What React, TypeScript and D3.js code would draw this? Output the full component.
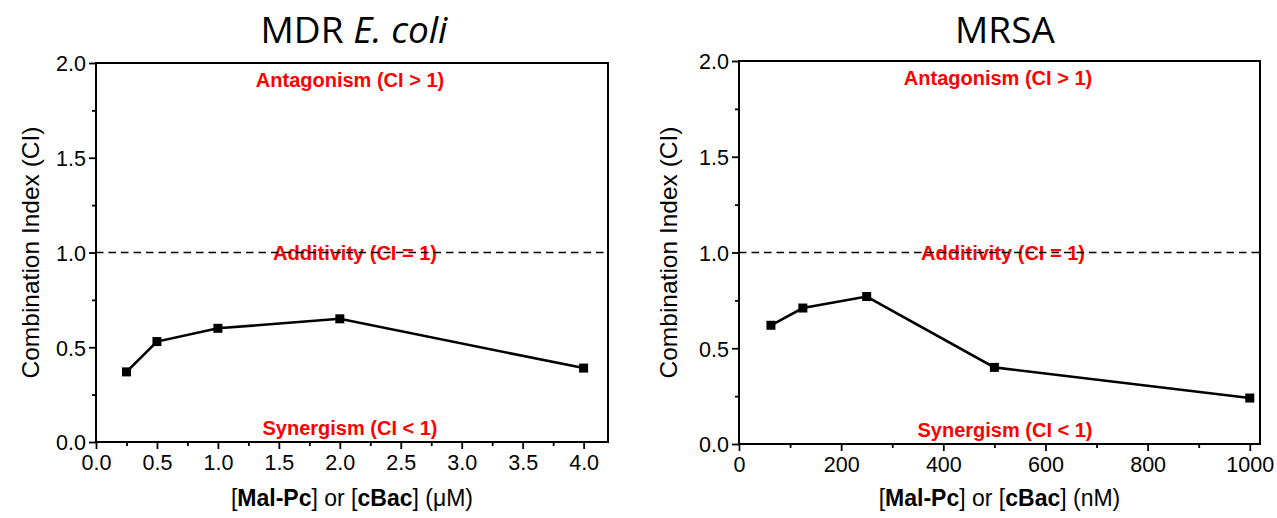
import * as d3 from "d3";
import { useEffect, useRef } from "react";

// data
const ecoliDose = [0.25, 0.5, 1, 2, 4];
const ecoliCI = [0.37, 0.53, 0.6, 0.65, 0.39];
const mrsaDose = [62.5, 125, 250, 500, 1000];
const mrsaCI = [0.62, 0.71, 0.77, 0.4, 0.24];

const ciTicks = [0, 0.5, 1, 1.5, 2];
const ciMinor = [0.25, 0.75, 1.25, 1.75];
const ecoliTicks = [0, 0.5, 1, 1.5, 2, 2.5, 3, 3.5, 4];
const ecoliMinor = [0.25, 0.75, 1.25, 1.75, 2.25, 2.75, 3.25, 3.75];
const mrsaTicks = [0, 200, 400, 600, 800, 1000];
const mrsaMinor = [100, 300, 500, 700, 900];

const W = 1277;
const H = 518;
const RED = "#ff0000";
const AX_FONT = "'Liberation Sans', Arial, sans-serif";

interface PanelOpts {
  left: number;
  right: number;
  top: number;
  bottom: number;
  xMax: number;
  dose: number[];
  ci: number[];
  xTicks: number[];
  xMinor: number[];
  fmtX: (d: number) => string;
  unit: string;
  title: string;
  italic?: string;
  titleX: number;
  yTitleX: number;
  notes: { anta: number; addi: number; syn: number };
}

function drawPanel(svg: d3.Selection<SVGSVGElement, unknown, null, undefined>, o: PanelOpts) {
  const x = d3.scaleLinear().domain([0, o.xMax]).range([o.left, o.right]);
  const y = d3.scaleLinear().domain([0, 2]).range([o.bottom, o.top]);
  const g = svg.append("g");

  // title
  const t = g.append("text")
    .attr("x", o.titleX)
    .attr("y", 43)
    .attr("text-anchor", "middle")
    .attr("font-family", "'Open Sans', sans-serif")
    .attr("font-size", 37)
    .attr("fill", "#000");
  t.append("tspan").text(o.title);
  if (o.italic) t.append("tspan").attr("font-style", "italic").text(o.italic);

  // frame
  g.append("rect")
    .attr("x", o.left)
    .attr("y", o.top)
    .attr("width", o.right - o.left)
    .attr("height", o.bottom - o.top)
    .attr("fill", "none")
    .attr("stroke", "#000")
    .attr("stroke-width", 2);

  // minor ticks
  g.append("g")
    .attr("transform", `translate(0,${o.bottom})`)
    .call(d3.axisBottom(x).tickValues(o.xMinor).tickSize(4).tickFormat(() => ""))
    .call((a) => a.select(".domain").remove());
  g.append("g")
    .attr("transform", `translate(${o.left},0)`)
    .call(d3.axisLeft(y).tickValues(ciMinor).tickSize(4).tickFormat(() => ""))
    .call((a) => a.select(".domain").remove());

  // major ticks
  const xa = g.append("g")
    .attr("transform", `translate(0,${o.bottom})`)
    .call(d3.axisBottom(x).tickValues(o.xTicks).tickSize(7).tickPadding(6).tickFormat((d) => o.fmtX(d as number)));
  xa.select(".domain").remove();
  const ya = g.append("g")
    .attr("transform", `translate(${o.left},0)`)
    .call(d3.axisLeft(y).tickValues(ciTicks).tickSize(7).tickPadding(3).tickFormat((d) => d3.format(".1f")(d as number)));
  ya.select(".domain").remove();
  g.selectAll(".tick line").attr("stroke", "#000").attr("stroke-width", 1.8);
  g.selectAll(".tick text")
    .attr("font-family", AX_FONT)
    .attr("font-size", 21.5)
    .attr("fill", "#000");
  ya.selectAll(".tick text").attr("dy", "0.36em");

  // axis titles
  g.append("text")
    .attr("transform", `translate(${o.yTitleX},${(o.top + o.bottom) / 2}) rotate(-90)`)
    .attr("text-anchor", "middle")
    .attr("dy", "0.36em")
    .attr("font-family", AX_FONT)
    .attr("font-size", 24.5)
    .text("Combination Index (CI)");

  const xl = g.append("text")
    .attr("x", (o.left + o.right) / 2)
    .attr("y", 506)
    .attr("text-anchor", "middle")
    .attr("font-family", AX_FONT)
    .attr("font-size", 23);
  xl.append("tspan").text("[");
  xl.append("tspan").attr("font-weight", "bold").text("Mal-Pc");
  xl.append("tspan").text("] or [");
  xl.append("tspan").attr("font-weight", "bold").text("cBac");
  xl.append("tspan").text(`] (${o.unit})`);

  // region notes
  const note = (cx: number, yy: number, s: string) =>
    g.append("text")
      .attr("x", cx)
      .attr("y", yy)
      .attr("text-anchor", "middle")
      .attr("font-family", AX_FONT)
      .attr("font-weight", "bold")
      .attr("font-size", 20)
      .attr("fill", RED)
      .text(s);
  note(o.notes.anta, o.top + 24, "Antagonism (CI > 1)");
  note(o.notes.addi, y(1) + 7, "Additivity (CI = 1)");
  note(o.notes.syn, o.bottom - 7, "Synergism (CI < 1)");

  // CI = 1 reference line
  g.append("line")
    .attr("x1", o.left)
    .attr("x2", o.right)
    .attr("y1", y(1))
    .attr("y2", y(1))
    .attr("stroke", "#000")
    .attr("stroke-width", 1.7)
    .attr("stroke-dasharray", "7.5,5");

  // series
  const pts = o.dose.map((d, i) => [d, o.ci[i]] as [number, number]);
  const line = d3.line<[number, number]>().x((d) => x(d[0])).y((d) => y(d[1]));
  g.append("path")
    .datum(pts)
    .attr("d", line)
    .attr("fill", "none")
    .attr("stroke", "#000")
    .attr("stroke-width", 2.6);
  g.selectAll(".pt")
    .data(pts)
    .enter()
    .append("rect")
    .attr("x", (d) => x(d[0]) - 4.5)
    .attr("y", (d) => y(d[1]) - 4.5)
    .attr("width", 9)
    .attr("height", 9)
    .attr("fill", "#000");
}

function App() {
  const ref = useRef<SVGSVGElement | null>(null);

  useEffect(() => {
    const svg = d3.select(ref.current!);
    svg.selectAll("*").remove();
    svg.append("rect").attr("width", W).attr("height", H).attr("fill", "#fff");

    drawPanel(svg, {
      left: 96, right: 608, top: 63, bottom: 442, xMax: 4.2,
      dose: ecoliDose, ci: ecoliCI,
      xTicks: ecoliTicks, xMinor: ecoliMinor,
      fmtX: d3.format(".1f"), unit: "\u03bcM",
      title: "MDR ", italic: "E. coli", titleX: 354, yTitleX: 30,
      notes: { anta: 350, addi: 355, syn: 350 },
    });
    drawPanel(svg, {
      left: 739, right: 1260, top: 61, bottom: 444, xMax: 1020,
      dose: mrsaDose, ci: mrsaCI,
      xTicks: mrsaTicks, xMinor: mrsaMinor,
      fmtX: d3.format("d"), unit: "nM",
      title: "MRSA", titleX: 1005, yTitleX: 668,
      notes: { anta: 998, addi: 1003, syn: 1005 },
    });
  }, []);

  return (
    <svg
      ref={ref}
      width={W}
      height={H}
      style={{ position: "absolute", left: 0, top: 0, display: "block" }}
    />
  );
}

export default App;
